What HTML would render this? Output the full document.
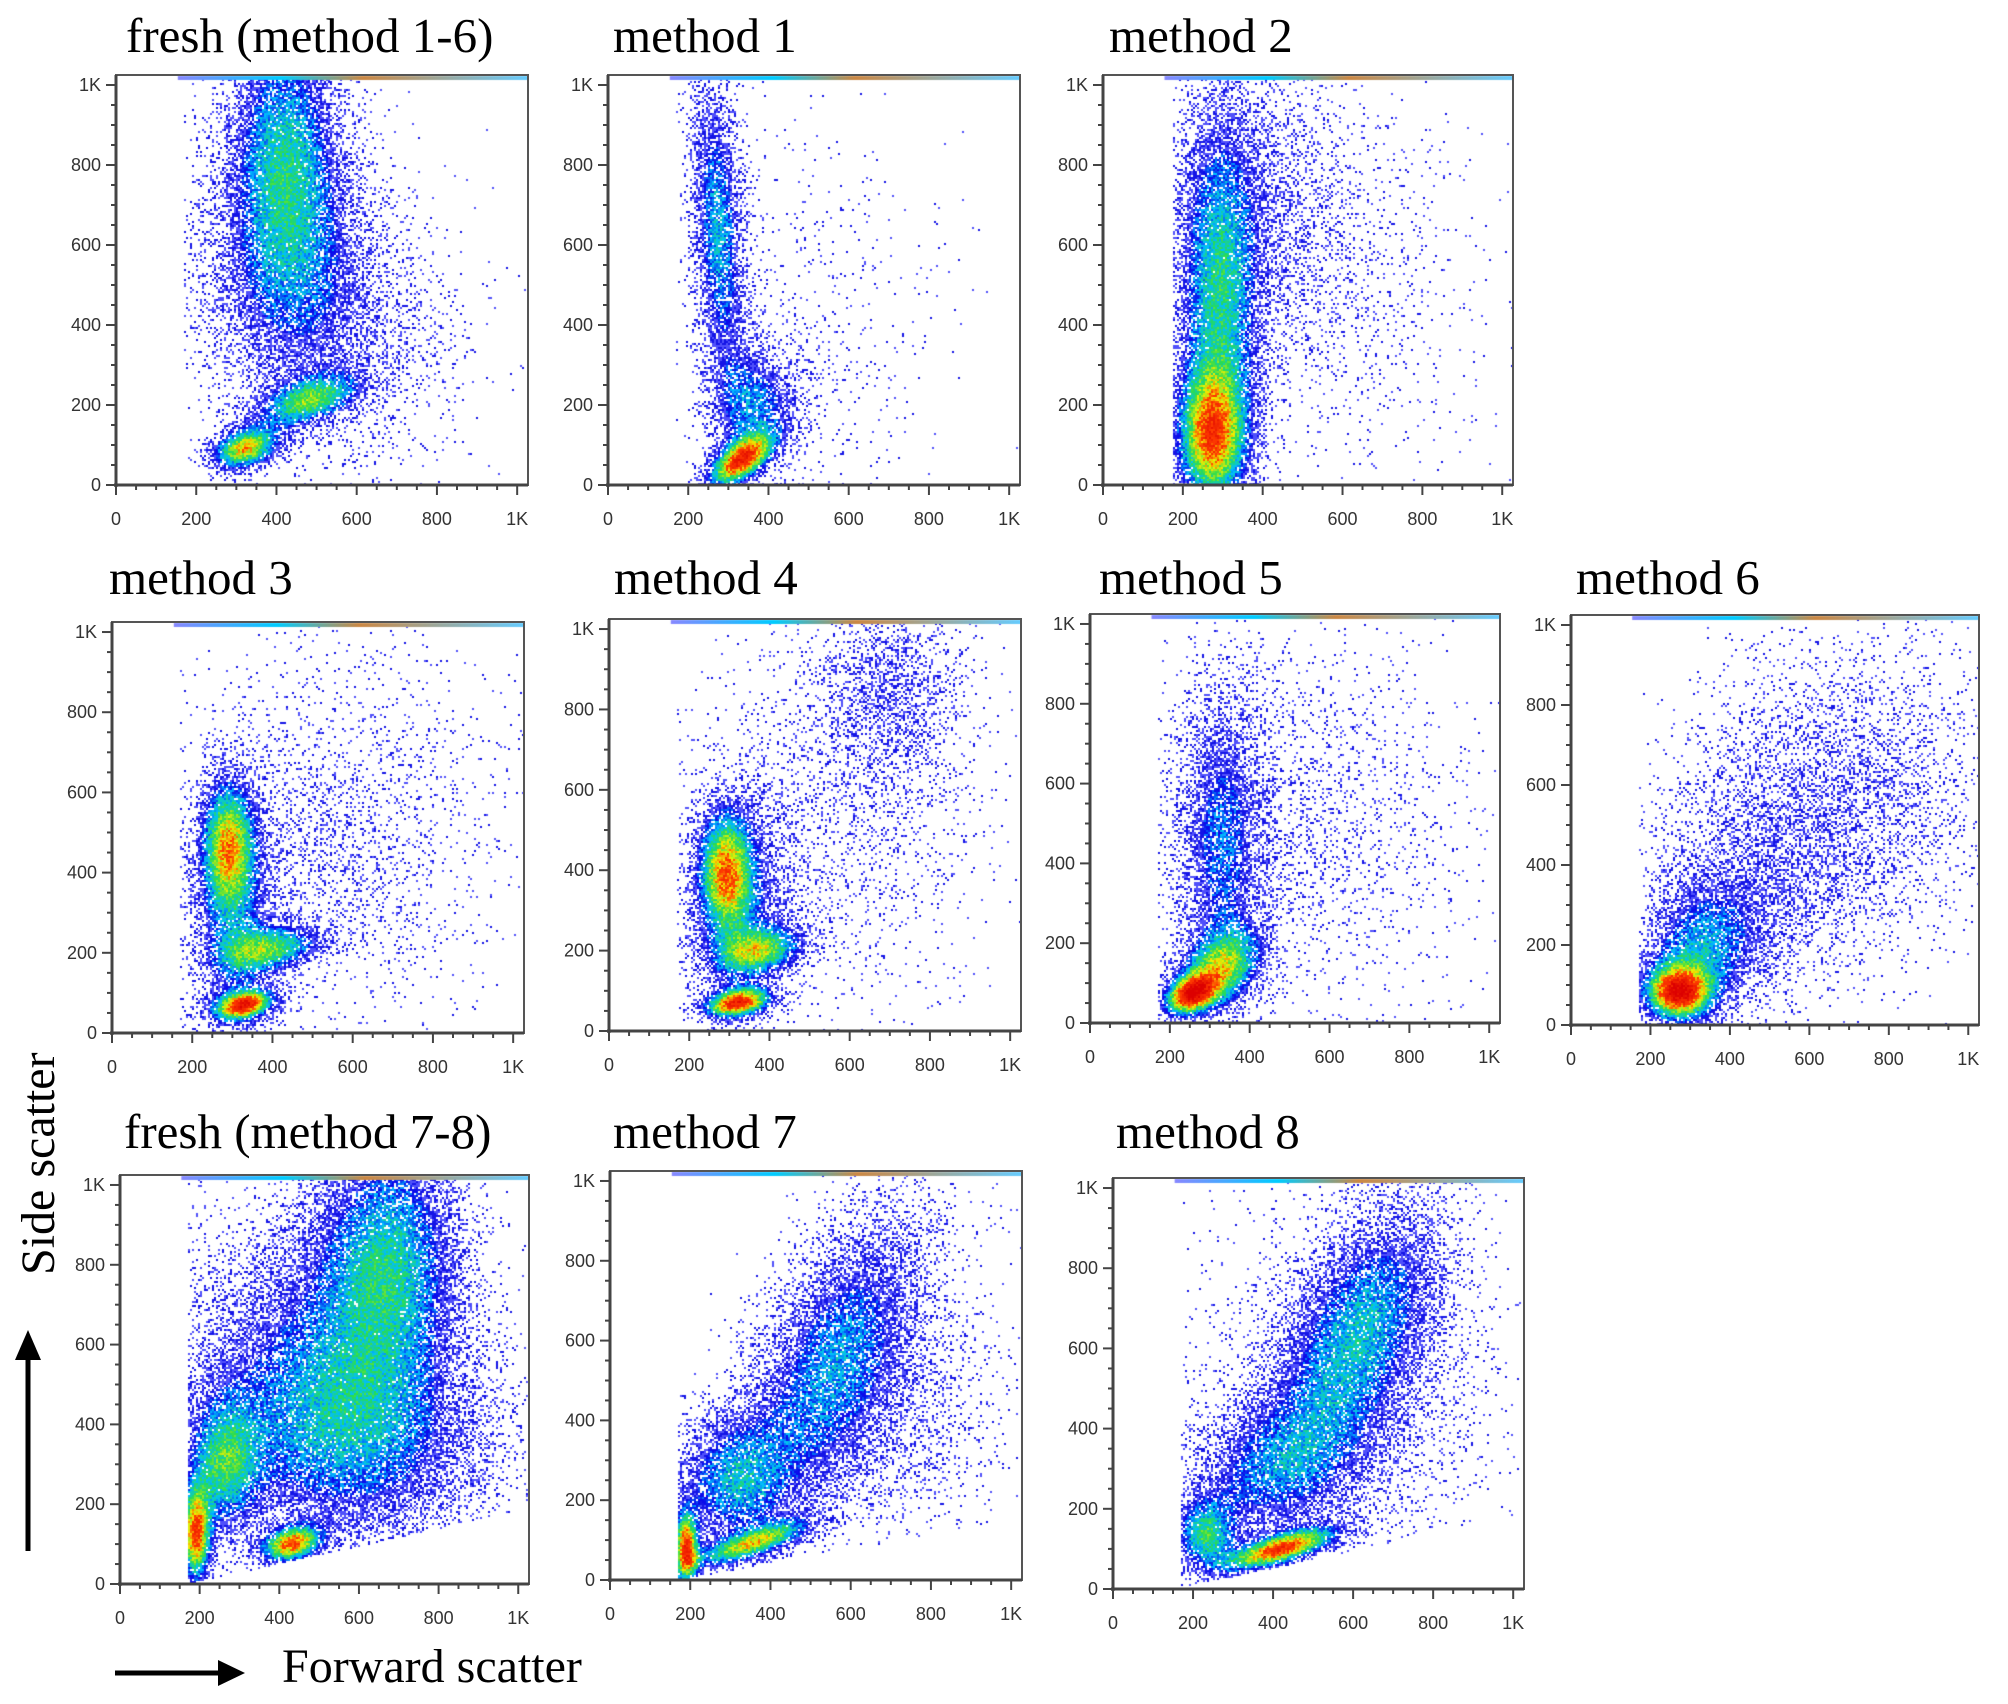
<!DOCTYPE html>
<html><head><meta charset="utf-8">
<style>
html,body{margin:0;padding:0;background:#fff;}
#wrap{position:relative;width:2008px;height:1704px;overflow:hidden;background:#fff;}
canvas,svg{position:absolute;left:0;top:0;}
</style></head>
<body>
<div id="wrap">
<canvas id="dens" width="2008" height="1704"></canvas>
<svg id="ov" width="2008" height="1704" xmlns="http://www.w3.org/2000/svg"></svg>
</div>
<script>
// ---- data ----
const panelTitles = ["fresh (method 1-6)","method 1","method 2","method 3","method 4","method 5","method 6","fresh (method 7-8)","method 7","method 8"];
const tickValues = [0,200,400,600,800,1000];
const tickLabels = ["0","200","400","600","800","1K"];
// clusters per panel: [x, y, sx, sy, rho, peak]
const clustersFresh16 = [[320,90,55,35,0.3,0.8],[480,210,85,45,0.5,0.55],[420,850,95,210,0,0.5],[430,520,140,200,0,0.3],[600,350,180,220,0,0.12]];
const clustersM1 = [[330,60,55,45,0.6,0.92],[275,640,45,260,-0.3,0.48],[370,200,70,90,0,0.4],[500,400,200,300,0,0.05]];
const clustersM2 = [[270,120,60,110,0,0.7],[290,450,70,320,0,0.52],[400,700,150,250,0,0.14],[650,500,200,300,0,0.06]];
const clustersM3 = [[290,470,45,110,0,0.66],[330,70,50,25,0.3,0.92],[400,210,85,40,0.3,0.54],[300,250,70,200,0,0.3],[550,500,250,280,0,0.12]];
const clustersM4 = [[290,400,45,100,0,0.64],[320,70,55,25,0.3,0.92],[380,200,75,40,0.3,0.54],[700,850,110,150,0,0.2],[320,300,80,180,0,0.3],[550,500,250,280,0,0.1]];
const clustersM5 = [[250,70,45,35,0.3,0.92],[330,140,70,65,0.3,0.58],[330,450,70,250,0,0.36],[550,500,250,300,0,0.1]];
const clustersM6 = [[270,80,55,45,0,0.9],[320,180,100,110,0.2,0.42],[700,600,220,230,0,0.17],[450,350,180,200,0,0.15]];
const clustersFresh78 = [[190,120,25,80,0,0.88],[430,100,50,30,0.3,0.82],[260,300,60,110,0,0.48],[680,820,120,220,0,0.5],[620,350,220,170,0,0.33],[450,550,200,250,0,0.3]];
const clustersM7 = [[190,80,20,60,0,0.92],[350,90,100,40,0.8,0.62],[560,560,150,250,0.6,0.4],[300,250,100,110,0,0.42],[700,400,200,200,0,0.14]];
const clustersM8 = [[420,100,90,35,0.7,0.9],[230,130,50,60,0,0.52],[620,650,130,200,0.5,0.44],[400,300,150,120,0.3,0.36],[600,500,250,300,0,0.11]];
const panelClusters = [clustersFresh16,clustersM1,clustersM2,clustersM3,clustersM4,clustersM5,clustersM6,clustersFresh78,clustersM7,clustersM8];
const fscThreshold = [170,170,175,170,170,170,170,170,170,170];
const floorSlope = [0,0,0,0,0,0,0,0.22,0.18,0.22];

// ---- layout (pixels) ----
const boxes = [[116,75,412,410],[608,75,412,410],[1103,75,410,410],
               [112,622,412,411],[609,619,412,412],[1090,614,410,409],[1571,615,408,410],
               [120,1175,409,409],[610,1171,412,409],[1113,1178,411,411]];
const titlePos = [[126,52],[613,52],[1109,52],[109,594],[614,594],[1099,594],[1576,594],[124,1148],[613,1148],[1116,1148]];
const XMAX=1027, YMAX=1025;
const NS="http://www.w3.org/2000/svg";
const svg=document.getElementById('ov');
function mk(tag,attrs,parent){const e=document.createElementNS(NS,tag);for(const k in attrs)e.setAttribute(k,attrs[k]);(parent||svg).appendChild(e);return e;}

function colorFor(v){
  const stops=[[0.35,[10,10,235]],[0.5,[0,190,255]],[0.65,[40,220,80]],[0.8,[240,240,0]],[0.93,[255,60,0]],[1.2,[220,0,0]]];
  if(v<=stops[0][0]) return stops[0][1];
  for(let i=0;i<stops.length-1;i++){const a=stops[i],b=stops[i+1];
    if(v<=b[0]){const t=(v-a[0])/(b[0]-a[0]);return [0,1,2].map(k=>Math.round(a[1][k]+(b[1][k]-a[1][k])*t));}}
  return [220,0,0];
}
function density(cl,x,y){let s=0;for(const c of cl){const dx=(x-c[0])/c[2],dy=(y-c[1])/c[3],r=c[4];
  const q=(dx*dx-2*r*dx*dy+dy*dy)/(1-r*r);s+=c[5]*Math.exp(-q/2);}return s;}
function hash(a,b){let h=(a*374761393+b*668265263)|0;h=(h^(h>>>13))*1274126177|0;return ((h^(h>>>16))>>>0)/4294967296;}
function hash2(a,b){return hash(b*7+13,a*3+101);}

const ctx=document.getElementById('dens').getContext('2d');
const CELL=2;
boxes.forEach((b,i)=>{
  const [L,T,W,H]=b, B=T+H;
  const g=mk('g',{},svg);
  
  
  const cl=panelClusters[i];
  for(let py=T+2;py<B-1;py+=CELL){for(let px=L+2;px<L+W-1;px+=CELL){
    const xv=(px+CELL/2-L)/W*XMAX, yv=(B-(py+CELL/2))/H*YMAX;
    if(xv<fscThreshold[i]) continue;
    if(yv<floorSlope[i]*(xv-fscThreshold[i])) continue;
    let v=density(cl,xv,yv);
    const r=hash(px,py), r2=hash2(px,py);
    if(v<0.35){
      const p=Math.pow(v/0.35,1.4)*0.8;
      if(r>p) continue;
      ctx.fillStyle=r<p*0.5?'rgb(20,20,230)':'rgb(80,80,250)';
    } else {
      if(v<0.6){
        const gap=(0.6-v)/0.25*0.3;
        if(r<gap) continue;
      }
      v+=(r2-0.5)*0.2;
      const c=colorFor(v);
      ctx.fillStyle='rgb('+c[0]+','+c[1]+','+c[2]+')';
    }
    ctx.fillRect(px,py,CELL,CELL);
  }}
  const grd=ctx.createLinearGradient(L,0,L+W,0);
  grd.addColorStop(0,'#fff');grd.addColorStop(0.15,'#88f');grd.addColorStop(0.4,'#0cf');grd.addColorStop(0.6,'#c84');grd.addColorStop(1,'#6cf');
  ctx.fillStyle=grd;ctx.fillRect(L+W*0.15,T+1,W*0.85,4);
  const fr=mk('rect',{x:L,y:T,width:W,height:H,fill:'none',stroke:'#555','stroke-width':2},g);
  
  
  mk('line',{x1:L,y1:T,x2:L,y2:B+2,stroke:'#444','stroke-width':3},g);
  mk('line',{x1:L-2,y1:B,x2:L+W,y2:B,stroke:'#444','stroke-width':3},g);
  for(let v=0;v<=1000;v+=50){
    const xp=L+v/XMAX*W, yp=B-v/YMAX*H, major=(v%200===0);
    mk('line',{x1:xp,y1:B,x2:xp,y2:B+(major?10:5),stroke:'#444','stroke-width':2},g);
    mk('line',{x1:L,y1:yp,x2:L-(major?10:5),y2:yp,stroke:'#444','stroke-width':2},g);
  }
  tickValues.forEach((v,k)=>{
    const xp=L+v/XMAX*W, yp=B-v/YMAX*H;
    const tx=mk('text',{x:xp,y:B+40,'text-anchor':'middle','font-family':'Liberation Sans, sans-serif','font-size':18,fill:'#333'},g);
    tx.textContent=tickLabels[k];
    
    
    const ty=mk('text',{x:L-15,y:yp+6,'text-anchor':'end','font-family':'Liberation Sans, sans-serif','font-size':18,fill:'#333'},g);
    ty.textContent=tickLabels[k];
    
    
  });
  const t=mk('text',{x:titlePos[i][0],y:titlePos[i][1],'font-family':'Liberation Serif, serif','font-size':49,fill:'#000'},svg);
  t.textContent=panelTitles[i];
  
  
});
const fl=mk('text',{x:282,y:1682,'font-family':'Liberation Serif, serif','font-size':48,fill:'#000'});
fl.textContent='Forward scatter';


const sl=mk('text',{x:0,y:0,transform:'translate(54,1275) rotate(-90)','font-family':'Liberation Serif, serif','font-size':48,fill:'#000'});
sl.textContent='Side scatter';


const ax=mk('g',{});


mk('line',{x1:115,y1:1673,x2:225,y2:1673,stroke:'#000','stroke-width':5},ax);
mk('polygon',{points:'245,1673 218,1660 218,1686',fill:'#000'},ax);
const ay=mk('g',{});


mk('line',{x1:28,y1:1551,x2:28,y2:1355,stroke:'#000','stroke-width':5},ay);
mk('polygon',{points:'28,1330 15,1360 41,1360',fill:'#000'},ay);
</script>
</body></html>
